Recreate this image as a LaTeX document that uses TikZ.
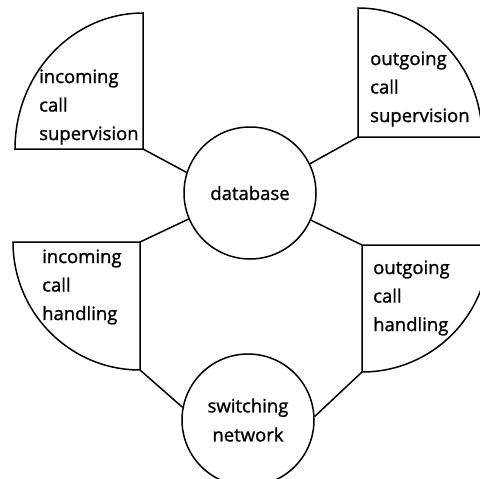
\documentclass[tikz,border=0pt]{standalone}
\usepackage{fontspec}
\setmainfont{Open Sans}
\newfontfamily\diagfont{Open Sans}[FakeBold=1.2]

\begin{document}
\begin{tikzpicture}[x=1pt, y=-1pt]
    \tikzstyle{hub} = [circle,draw=black,line width=1.5pt,inner sep=0pt,minimum size=132pt,align=center,font=\diagfont\fontsize{18.5}{29}\selectfont]
    \tikzstyle{quadrant} = [draw=black,line width=1.5pt,line join=miter]
    \tikzstyle{quadrant text} = [anchor=west,align=left,inner sep=0pt,font=\diagfont\fontsize{18.5}{28.5}\selectfont]
    \tikzstyle{link} = [draw=black,line width=1.5pt]
\useasboundingbox (0,0) rectangle (480,479);
% circles
\node[hub] (db) at (250,193) {database};
\node[hub] (sw) at (248,420) {switching\\network};
% corners of the quadrants
\coordinate (icsC) at (143,149);
\coordinate (ocsC) at (358,137);
\coordinate (ichC) at (140,242);
\coordinate (ichB) at (140,370);
\coordinate (ochC) at (362,245);
\coordinate (ochB) at (362,372);
% quadrants
\draw[quadrant] (icsC) -- (15,149) arc[start angle=180, end angle=270, x radius=128, y radius=136] -- cycle;
\draw[quadrant] (ocsC) -- (358,8) arc[start angle=270, end angle=360, x radius=124, y radius=129] -- cycle;
\draw[quadrant] (ichC) -- (13,242) arc[start angle=180, end angle=90, x radius=127, y radius=128] -- cycle;
\draw[quadrant] (ochC) -- (ochB) arc[start angle=90, end angle=0, x radius=127, y radius=127] -- cycle;
\node[quadrant text] (ics) at (39,107) {incoming\\call\\supervision};
\node[quadrant text] (ocs) at (370,89) {outgoing\\call\\supervision};
\node[quadrant text] (ich) at (42,287) {incoming\\call\\handling};
\node[quadrant text] (och) at (373,298) {outgoing\\call\\handling};
% connectors
\draw[link] (icsC) -- (db.162);
\draw[link] (ocsC) -- (db.26);
\draw[link] (ichC) -- (db.203);
\draw[link] (ochC) -- (db.-24);
\draw[link] (ichB) -- (sw.169);
\draw[link] (ochB) -- (sw.3);
\end{tikzpicture}
\end{document}
